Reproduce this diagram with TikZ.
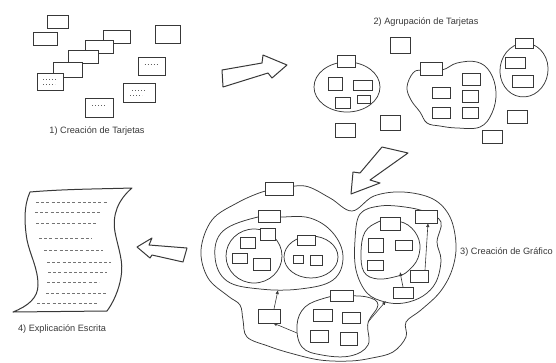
\documentclass[tikz,border=0pt]{standalone}
\usepackage{fontspec}
\setmainfont{Liberation Sans}
\usetikzlibrary{arrows.meta}
\definecolor{ink}{gray}{0.22}

% card: name, centre x, centre y, width, height
\newcommand\tarjeta[5]{\node[card, minimum width=#4pt, minimum height=#5pt] (#1) at (#2,#3) {};}

\tikzset{
  card/.style={draw=ink, fill=white, line width=0.8pt, inner sep=0pt, outer sep=0pt},
  blob/.style={draw=ink, line width=0.75pt},
  bigarrow/.style={draw=ink, fill=white, line width=1pt, line join=round},
  link/.style={draw=ink, line width=0.6pt, -{Latex[length=4pt,width=3.5pt]}},
  lbl/.style={font=\fontsize{9.2}{11}\selectfont, text=ink, inner sep=0pt},
  scribble/.style={draw=ink!70, line width=0.6pt, dash pattern=on 3pt off 2.2pt},
  jot/.style={draw=ink!80, line width=0.6pt, dash pattern=on 0.8pt off 2.2pt}
}

\begin{document}
\begin{tikzpicture}[x=1pt,y=-1pt]
\useasboundingbox (0,0) rectangle (556,362);

% ---------- 1) loose cards ----------
\tarjeta{a1}{57.5}{21.5}{21}{13}
\tarjeta{a2}{45}{38.5}{24}{13}
\tarjeta{a3}{116.5}{36.5}{27}{13}
\tarjeta{a4}{99}{46.5}{28}{13}
\tarjeta{a5}{83}{56.5}{30}{13}
\tarjeta{a6}{67.5}{69.5}{29}{15}
\tarjeta{a7}{50}{81.5}{26}{17}
\tarjeta{a8}{167.5}{34}{25}{18}
\tarjeta{a9}{151.5}{66}{27}{18}
\tarjeta{a10}{139}{92.5}{32}{19}
\tarjeta{a11}{99}{107.5}{28}{19}
\foreach \c in {a7,a9,a10,a11}{
  \draw[jot] ([xshift=-7pt,yshift=2pt]\c.center) -- ([xshift=7pt,yshift=2pt]\c.center);
}
\draw[jot] ([xshift=-7pt,yshift=-3pt]a7.center) -- ([xshift=5pt,yshift=-3pt]a7.center);
\draw[jot] ([xshift=-9pt,yshift=-3pt]a10.center) -- ([xshift=3pt,yshift=-3pt]a10.center);
\node[lbl] (t1) at (97,131) {1) Creación de Tarjetas};

% ---------- arrow 1 -> 2 ----------
\draw[bigarrow] (222,70) -- (262,63) -- (263,55) -- (287,65) -- (272,78)
  -- (268,73) -- (223,87) -- cycle;

% ---------- 2) grouped cards ----------
\node[lbl] (t2) at (426,22) {2) Agrupación de Tarjetas};
\draw[blob] (347,87) ellipse [x radius=33, y radius=25];
\draw[blob] plot[smooth cycle, tension=0.65] coordinates {
  (442,70) (457,63) (477,62) (490,72) (496,92) (492,113) (480,127)
  (457,128) (440,126) (427,123) (420,112) (411,100) (407,87) (413,73) (422,70)};
\draw[blob, rotate around={-8:(524,70)}] (524,70) ellipse [x radius=24, y radius=27];

\tarjeta{b1}{400}{45}{20}{16}
\tarjeta{b2}{346}{61}{18}{12}
\tarjeta{b3}{335}{83.5}{14}{13}
\tarjeta{b4}{362.5}{85}{19}{10}
\tarjeta{b5}{342.5}{102.5}{15}{11}
\tarjeta{b6}{363.5}{99}{13}{8}
\tarjeta{b7}{345}{130}{20}{14}
\tarjeta{b8}{390}{122.5}{20}{15}
\tarjeta{b9}{431}{68.5}{22}{13}
\tarjeta{b10}{471}{79}{18}{12}
\tarjeta{b11}{441}{92.5}{18}{11}
\tarjeta{b12}{470}{96}{16}{12}
\tarjeta{b13}{441}{112.5}{18}{11}
\tarjeta{b14}{470}{112.5}{16}{11}
\tarjeta{b15}{524}{43}{18}{10}
\tarjeta{b16}{515}{62.5}{20}{11}
\tarjeta{b17}{522.5}{81}{21}{12}
\tarjeta{b18}{517}{116.5}{20}{13}
\tarjeta{b19}{492}{136.5}{20}{13}

% ---------- arrow 2 -> 3 ----------
\draw[bigarrow] (382,147) -- (408,153) -- (370,180) -- (380,183) -- (351,194)
  -- (353,172) -- (360,173) -- cycle;

% ---------- 3) graph ----------
\node[lbl, anchor=west] (t3) at (460,252) {3) Creación de Gráfico};
% outer boundary
\draw[blob] plot[smooth cycle, tension=0.6] coordinates {
  (279,189) (262,192) (237,203) (212,220) (201,250) (208,278) (228,296) (240,305)
  (243,320) (247,337) (268,346) (290,353) (320,360) (350,361) (372,358)
  (393,352) (406,337) (406,322) (421,310) (440,292) (452,270) (456,245)
  (450,217) (433,199) (403,192) (374,196) (352,211) (330,198) (305,186)};
% left group and its two sub-groups
\draw[blob] plot[smooth cycle, tension=0.65] coordinates {
  (280,217) (310,218) (333,233) (343,257) (333,280) (300,289) (260,289)
  (227,281) (215,257) (223,231) (258,217)};
\draw[blob] (254,256) ellipse [x radius=28, y radius=27];
\draw[blob] (311,257) ellipse [x radius=27, y radius=21];
% bottom group
\draw[blob] plot[smooth cycle, tension=0.65] coordinates {
  (341,296) (367,297) (378,305) (368,323) (368,345) (350,356) (322,355)
  (302,347) (297,325) (305,307) (325,298)};
% right group, middle boundary and sub-group
\draw[blob] plot[smooth cycle, tension=0.6] coordinates {
  (380,206) (405,207) (426,212) (441,222) (437,242) (441,260) (436,282)
  (423,296) (404,303) (385,302) (367,293) (356,270) (355,240) (360,214)};
\draw[blob] plot[smooth cycle, tension=0.65] coordinates {
  (390,220) (408,225) (419,240) (418,258) (408,271) (398,276) (378,279)
  (364,272) (361,252) (365,232) (378,222)};

\tarjeta{g1}{279}{188.5}{28}{13}
\tarjeta{g2}{269}{216}{22}{12}
\tarjeta{g3}{267.5}{234}{15}{12}
\tarjeta{g4}{247.5}{242.5}{15}{11}
\tarjeta{g5}{239.5}{258}{15}{10}
\tarjeta{g6}{261.5}{264}{17}{12}
\tarjeta{g7}{306}{240}{18}{10}
\tarjeta{g8}{298}{259}{10}{8}
\tarjeta{g9}{316}{260}{12}{10}
\tarjeta{g10}{269}{316}{22}{14}
\tarjeta{g11}{341.5}{296}{23}{11}
\tarjeta{g12}{322.5}{315}{19}{12}
\tarjeta{g13}{351}{317.5}{18}{11}
\tarjeta{g14}{319}{336}{18}{12}
\tarjeta{g15}{348.5}{338.5}{17}{13}
\tarjeta{g16}{390}{223.5}{20}{13}
\tarjeta{g17}{426}{216.5}{22}{13}
\tarjeta{g18}{375.5}{245}{15}{14}
\tarjeta{g19}{403.5}{245}{17}{10}
\tarjeta{g20}{375}{265}{16}{10}
\tarjeta{g21}{419}{276}{18}{12}
\tarjeta{g22}{403}{292.5}{20}{11}

% links between cards and groups
\coordinate (p1) at (278,290);
\coordinate (p2) at (297,333);
\coordinate (p3) at (368,322);
\coordinate (p4) at (386,301);
\coordinate (p5) at (400,272);
\draw[link] ([xshift=5pt]g10.north) -- (p1);
\draw[link] (p2) -- ([xshift=4pt]g10.south);
\draw[link] (p3) -- (p4);
\draw[link] (g22.north) -- (p5);
\draw[link] ([xshift=6pt]g21.north) -- ([xshift=2pt]g17.south);

% ---------- arrow 3 -> 4 ----------
\draw[bigarrow] (137,247) -- (152,238) -- (149,245) -- (187,248) -- (183,262)
  -- (152,255) -- (150,258) -- cycle;

% ---------- 4) written explanation ----------
\draw[line width=1pt, draw=ink, fill=white, line join=round] (30,192)
  .. controls (65,189) and (100,189) .. (132,188)
  .. controls (118,200) and (112,215) .. (115,232)
  .. controls (118,248) and (124,262) .. (121,277)
  .. controls (119,290) and (113,303) .. (107,311)
  -- (13,312)
  .. controls (28,306) and (38,298) .. (38,285)
  .. controls (38,268) and (30,255) .. (27,240)
  .. controls (24,222) and (24,205) .. (30,192) -- cycle;
\foreach \y/\a/\b in {202/36/108, 212/35/102, 223/36/98, 238/39/92, 250/44/103,
                      262/47/111, 272/48/107, 282/47/99, 293/46/106, 303/37/98}{
  \draw[scribble] (\a,\y) -- (\b,\y);
}
\node[lbl] (t4) at (62,329) {4) Explicación Escrita};
\end{tikzpicture}
\end{document}
